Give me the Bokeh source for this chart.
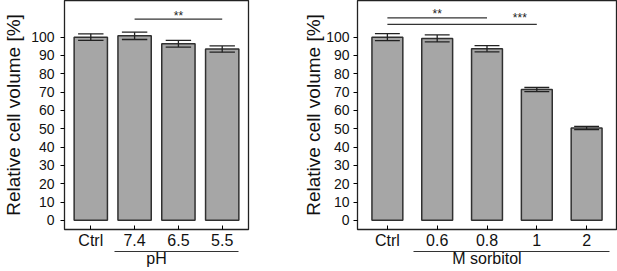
from bokeh.plotting import figure
from bokeh.models import Range1d, FixedTicker, LinearAxis
from bokeh.layouts import row
from bokeh.embed import file_html
from bokeh.resources import INLINE
from bokeh.core.properties import value

FONT = "Liberation Sans"

# ---- data ----
ph_cats = ["Ctrl", "7.4", "6.5", "5.5"]
ph_vals = [100.0, 100.7, 96.4, 93.5]
ph_err = [1.8, 2.0, 1.8, 1.7]
ph_group = "pH"

sorb_cats = ["Ctrl", "0.6", "0.8", "1", "2"]
sorb_vals = [100.0, 99.3, 93.7, 71.4, 50.4]
sorb_err = [1.9, 1.9, 1.7, 1.1, 0.9]
sorb_group = "M sorbitol"

y_ticks = list(range(0, 101, 10))
y_label = "Relative cell volume [%]"

# significance brackets: (start index, end index, line level, star text, star x, star level)
ph_sig = [(1, 3, 109.8, "**", 2.0, 111.8)]
sorb_sig = [(0, 2, 110.5, "**", 1.0, 112.4), (0, 3, 107.0, "***", 2.66, 110.6)]


def panel(cats, vals, errs, group, sig, width, height, borders, bar_w, cap_half, group_bounds,
          ylab_standoff, ytick_standoff):
    n = len(cats)
    xs = list(range(n))
    p = figure(width=width, height=height, output_backend="svg", toolbar_location=None,
               x_range=Range1d(-0.6, n - 1 + 0.6), y_range=Range1d(-5, 120),
               min_border_left=borders[0], min_border_right=borders[1],
               min_border_top=borders[2], min_border_bottom=borders[3])
    p.grid.visible = False
    p.outline_line_color = "#222222"
    p.outline_line_width = 1.3
    p.background_fill_color = "white"
    p.border_fill_color = "white"

    p.vbar(x=xs, top=vals, bottom=0, width=bar_w, fill_color="#a6a6a6",
           line_color="#303030", line_width=1.5)
    lo = [v - e for v, e in zip(vals, errs)]
    hi = [v + e for v, e in zip(vals, errs)]
    p.segment(x0=xs, x1=xs, y0=lo, y1=hi, line_color="#222222", line_width=1.3)
    p.segment(x0=[x - cap_half for x in xs], x1=[x + cap_half for x in xs], y0=lo, y1=lo,
              line_color="#222222", line_width=1.3)
    p.segment(x0=[x - cap_half for x in xs], x1=[x + cap_half for x in xs], y0=hi, y1=hi,
              line_color="#222222", line_width=1.3)

    for (a, b, lvl, txt, tx, ty) in sig:
        p.segment(x0=[a], x1=[b], y0=[lvl], y1=[lvl], line_color="#333333", line_width=1.2)
        p.text(x=[tx], y=[ty], text=[txt], text_align="center", text_baseline="middle",
               text_font=value(FONT), text_font_size="12px", text_color="#222222")

    # y axis
    ya = p.yaxis[0]
    ya.ticker = FixedTicker(ticks=y_ticks)
    ya.minor_tick_line_color = None
    ya.major_tick_out = 4
    ya.major_tick_in = 0
    ya.axis_line_color = None
    ya.major_label_standoff = ytick_standoff
    ya.major_label_text_font = FONT
    ya.major_label_text_font_size = "14px"
    ya.major_label_text_color = "#111111"
    ya.axis_label = y_label
    ya.axis_label_text_font = FONT
    ya.axis_label_text_font_style = "normal"
    ya.axis_label_text_font_size = "19px"
    ya.axis_label_text_color = "#111111"
    ya.axis_label_standoff = ylab_standoff

    # x axis
    xa = p.xaxis[0]
    xa.ticker = FixedTicker(ticks=xs)
    xa.major_label_overrides = {i: c for i, c in enumerate(cats)}
    xa.minor_tick_line_color = None
    xa.major_tick_out = 0
    xa.major_tick_in = 4
    xa.axis_line_color = None
    xa.major_label_standoff = 2
    xa.major_label_text_font = FONT
    xa.major_label_text_font_size = "16px"
    xa.major_label_text_color = "#111111"

    # group axis below
    ga = LinearAxis(ticker=FixedTicker(ticks=[]), bounds=group_bounds, axis_label=group)
    ga.axis_line_color = "#333333"
    ga.axis_line_width = 1.2
    ga.major_tick_out = 0
    ga.major_tick_in = 0
    ga.minor_tick_line_color = None
    ga.major_label_text_font_size = "0px"
    ga.major_label_standoff = 0
    ga.axis_label_standoff = -2
    ga.axis_label_text_font = FONT
    ga.axis_label_text_font_style = "normal"
    ga.axis_label_text_font_size = "16px"
    ga.axis_label_text_color = "#111111"
    p.add_layout(ga, "below")
    return p


p1 = panel(ph_cats, ph_vals, ph_err, ph_group, ph_sig, 300, 271, (61, 52, 0, 42),
           0.76, 0.29, (0.54, 3.37), 4, 6)
p2 = panel(sorb_cats, sorb_vals, sorb_err, sorb_group, sorb_sig, 317, 271, (49, 1, 0, 40),
           0.62, 0.25, (0.53, 4.45), -1, 4)

layout = row(p1, p2)
layout.spacing = 0
open("out.html", "w").write(file_html(layout, INLINE))
